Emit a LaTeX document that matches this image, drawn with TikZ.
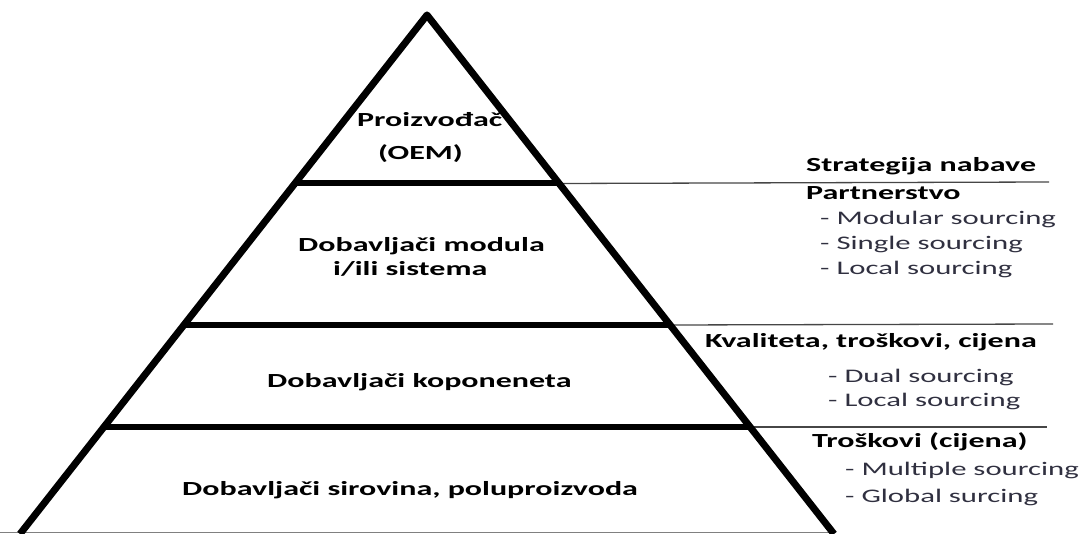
\documentclass[tikz,border=0pt]{standalone}
\usepackage{fontspec}
\setmainfont{Carlito}[FakeStretch=1.6]
\definecolor{txtgray}{RGB}{48,48,64}
\definecolor{linegray}{RGB}{70,70,70}
\begin{document}
\begin{tikzpicture}[x=1pt,y=-1pt,
  thickedge/.style={line width=7pt,line join=round},
  level/.style={line width=6pt},
  thinline/.style={line width=1.3pt,draw=linegray},
  lbl/.style={anchor=base west,inner sep=0pt,font=\fontsize{20}{24}\selectfont\bfseries,text=black},
  item/.style={anchor=base west,inner sep=0pt,font=\fontsize{19.2}{23}\selectfont,text=txtgray}]
\useasboundingbox (0,0) rectangle (1081,534);
\begin{scope}
\clip (0,0) rectangle (1081,534);
% pyramid corners
\coordinate (apex) at (427,15);
\coordinate (bl) at (20,534);
\coordinate (br) at (834,534);
% level ends
\coordinate (l1) at (295,183.5);
\coordinate (r1) at (559,183.5);
\coordinate (e1) at (1049,182);
\coordinate (l2) at (183,325);
\coordinate (r2) at (670,325);
\coordinate (e2) at (1053,324);
\coordinate (l3) at (103,427);
\coordinate (r3) at (751,427);
\coordinate (e3) at (1047,427);
\coordinate (b0) at (0,532.5);
\coordinate (b1) at (832,532.5);
% thin lines
\draw[thinline] (r1) -- (e1);
\draw[thinline] (r2) -- (e2);
\draw[thinline] (r3) -- (e3);
\draw[thinline,draw=gray] (b0) -- (b1);
% levels
\draw[level] (l1) -- (r1);
\draw[level] (l2) -- (r2);
\draw[level] (l3) -- (r3);
% edges
\draw[thickedge] (bl) -- (apex) -- (br);
\end{scope}
% pyramid texts
\node[lbl] (oem1) at (357,127) {Proizvođač};
\node[lbl] (oem2) at (378,160) {(OEM)};
\node[lbl] (mod1) at (298,252) {Dobavljači modula};
\node[lbl] (mod2) at (333,276) {i/ili sistema};
\node[lbl] (komp) at (267,387) {Dobavljači koponeneta};
\node[lbl] (sir) at (182,495) {Dobavljači sirovina, poluproizvoda};
% right texts
\node[lbl] (strat) at (806,172) {Strategija nabave};
\node[lbl] (part) at (806,200) {Partnerstvo};
\node[item] (p1) at (820,225) {- Modular sourcing};
\node[item] (p2) at (820,250) {- Single sourcing};
\node[item] (p3) at (820,275) {- Local sourcing};
\node[lbl] (kval) at (705,348) {Kvaliteta, troškovi, cijena};
\node[item] (k1) at (828,382) {- Dual sourcing};
\node[item] (k2) at (828,406) {- Local sourcing};
\node[lbl] (tros) at (812,447) {Troškovi (cijena)};
\node[item] (t1) at (845,475) {- Multiple sourcing};
\node[item] (t2) at (845,502) {- Global surcing};
\end{tikzpicture}
\end{document}
